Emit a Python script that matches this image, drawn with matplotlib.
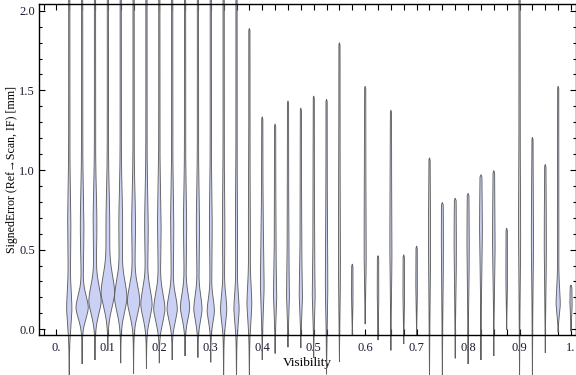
import numpy as np
import matplotlib
matplotlib.use("Agg")
import matplotlib.pyplot as plt
from matplotlib.ticker import MultipleLocator, FixedLocator

plt.rcParams['font.family'] = ['Liberation Serif', 'DejaVu Serif']

# ---- data ----
visibility = [0.025, 0.05, 0.075, 0.1, 0.125, 0.15, 0.175, 0.2, 0.225, 0.25,
              0.275, 0.3, 0.325, 0.35, 0.375, 0.4, 0.425, 0.45, 0.475, 0.5,
              0.525, 0.55, 0.575, 0.6, 0.625, 0.65, 0.675, 0.7, 0.725, 0.75,
              0.775, 0.8, 0.825, 0.85, 0.875, 0.9, 0.925, 0.95, 0.975, 1.0]
err_min = [-0.33, -0.215, -0.19, -0.13, -0.21, -0.275, -0.245, -0.21, -0.19, -0.165,
           -0.175, -0.205, -0.33, -0.33, -0.33, -0.19, -0.15, -0.11, -0.115, -0.175,
           -0.28, -0.20, -0.035, 0.035, -0.065, -0.13, -0.09, -0.035, -0.33, -0.33,
           -0.18, -0.215, -0.19, -0.165, 0.0, -0.33, -0.33, -0.145, -0.015, -0.01]
err_max = [2.3, 2.3, 2.3, 2.3, 2.3, 2.3, 2.3, 2.3, 2.3, 2.3,
           2.3, 2.3, 2.3, 2.3, 1.89, 1.335, 1.29, 1.435, 1.39, 1.465,
           1.445, 1.80, 0.41, 1.527, 0.462, 1.377, 0.468, 0.523, 1.077, 0.797,
           0.824, 0.854, 0.971, 0.996, 0.634, 2.3, 1.205, 1.036, 1.527, 0.278]
# mode of each distribution, its spread, and widths (in pixels) of the bulb / shoulder
err_mode = [0.12, 0.13, 0.17, 0.22, 0.19, 0.17, 0.15, 0.12, 0.12, 0.13,
            0.12, 0.11, 0.12, 0.12, 0.15, 0.25, 0.20, 0.20, 0.20, 0.20,
            0.25, 0.30, 0.20, 0.40, 0.20, 0.40, 0.20, 0.25, 0.40, 0.40,
            0.40, 0.40, 0.60, 0.50, 0.30, 0.50, 0.50, 0.40, 0.15, 0.15]
err_spread = [0.12, 0.08, 0.10, 0.12, 0.11, 0.10, 0.10, 0.10, 0.09, 0.09,
              0.09, 0.08, 0.09, 0.10, 0.12, 0.20, 0.15, 0.15, 0.15, 0.15,
              0.20, 0.30, 0.10, 0.30, 0.15, 0.30, 0.15, 0.15, 0.30, 0.30,
              0.30, 0.30, 0.30, 0.30, 0.20, 0.40, 0.30, 0.30, 0.10, 0.10]
bulb_px = [2.0, 5.5, 5.5, 6.0, 5.5, 5.5, 5.0, 5.0, 4.5, 4.0,
           3.5, 3.0, 2.5, 2.0, 1.8, 1.2, 1.0, 0.8, 1.0, 0.8,
           0.6, 0.3, 0.2, 0.3, 0.2, 0.3, 0.2, 0.2, 0.3, 0.3,
           0.4, 0.4, 0.6, 0.5, 0.2, 0.3, 0.3, 0.3, 1.5, 0.5]
shoulder_px = [1.0, 1.2, 1.3, 1.3, 1.3, 1.3, 1.2, 1.2, 1.0, 1.0,
               1.0, 0.8, 0.6, 0.5, 0.4, 0.3, 0.2, 0.2, 0.2, 0.2,
               0.2, 0.2, 0.0, 0.2, 0.0, 0.2, 0.0, 0.0, 0.2, 0.2,
               0.2, 0.2, 0.2, 0.2, 0.0, 0.2, 0.2, 0.2, 0.0, 0.0]
tail_px = 0.6

x_ticks = [0.0, 0.1, 0.2, 0.3, 0.4, 0.5, 0.6, 0.7, 0.8, 0.9, 1.0]
x_labels = ["0.", "0.1", "0.2", "0.3", "0.4", "0.5", "0.6", "0.7", "0.8", "0.9", "1."]
y_ticks = [0.0, 0.5, 1.0, 1.5, 2.0]
y_labels = ["0.0", "0.5", "1.0", "1.5", "2.0"]

# ---- figure ----
fig = plt.figure(figsize=(5.76, 3.75), dpi=100)
ax = fig.add_axes([39 / 576, 1 - 335 / 375, (575.5 - 39) / 576, (335 - 4.4) / 375])
ax.set_xlim(-0.0338, 1.0087)
ax.set_ylim(-0.036, 2.040)

px = 1.0 / 514.6  # data units per pixel along x
fill_c = '#cbd1f4'
edge_c = '#606060'

for xv, lo, hi, c, s, a, b in zip(visibility, err_min, err_max, err_mode,
                                  err_spread, bulb_px, shoulder_px):
    y = np.linspace(lo, hi, 600)
    hw = a * np.exp(-0.5 * ((y - c) / s) ** 2) \
        + b * np.exp(-0.5 * ((y - 0.65) / 0.2) ** 2) + tail_px
    bot = np.clip((y - lo) / max(c - lo, 0.03), 0, 1)
    top = np.clip((hi - y) / 0.015, 0, 1)
    hw = hw * bot * top * px
    ax.fill_betweenx(y, xv - hw, xv + hw, facecolor=fill_c, edgecolor='none',
                     clip_on=False, zorder=2)
    ax.plot(np.r_[xv - hw, (xv + hw)[::-1]], np.r_[y, y[::-1]], color=edge_c,
            lw=0.65, clip_on=False, zorder=3, solid_joinstyle='miter')

# ---- axes styling ----
for sp in ax.spines.values():
    sp.set_linewidth(1.0)
    sp.set_color('black')
    sp.set_zorder(4)

ax.xaxis.set_major_locator(FixedLocator(x_ticks))
ax.set_xticklabels(x_labels)
ax.xaxis.set_minor_locator(MultipleLocator(0.025))
ax.yaxis.set_major_locator(FixedLocator(y_ticks))
ax.set_yticklabels(y_labels)
ax.yaxis.set_minor_locator(MultipleLocator(0.1))

ax.tick_params(axis='both', which='both', direction='in', top=True, right=True,
               labelsize=9, colors='black', width=0.8)
ax.tick_params(axis='x', which='major', length=4, pad=5)
ax.tick_params(axis='x', which='minor', length=4)
ax.tick_params(axis='y', which='major', length=4.5, pad=3)
ax.tick_params(axis='y', which='minor', length=2.5)
for t in ax.get_xticklabels() + ax.get_yticklabels():
    t.set_color('#1a1a33')

ax.set_xlabel("Visibility", fontsize=9.5, labelpad=2)
ax.set_ylabel("SignedError (Ref\u2192Scan, IF) [mm]", fontsize=8.6, labelpad=1)

fig.savefig("out.png", dpi=100)
